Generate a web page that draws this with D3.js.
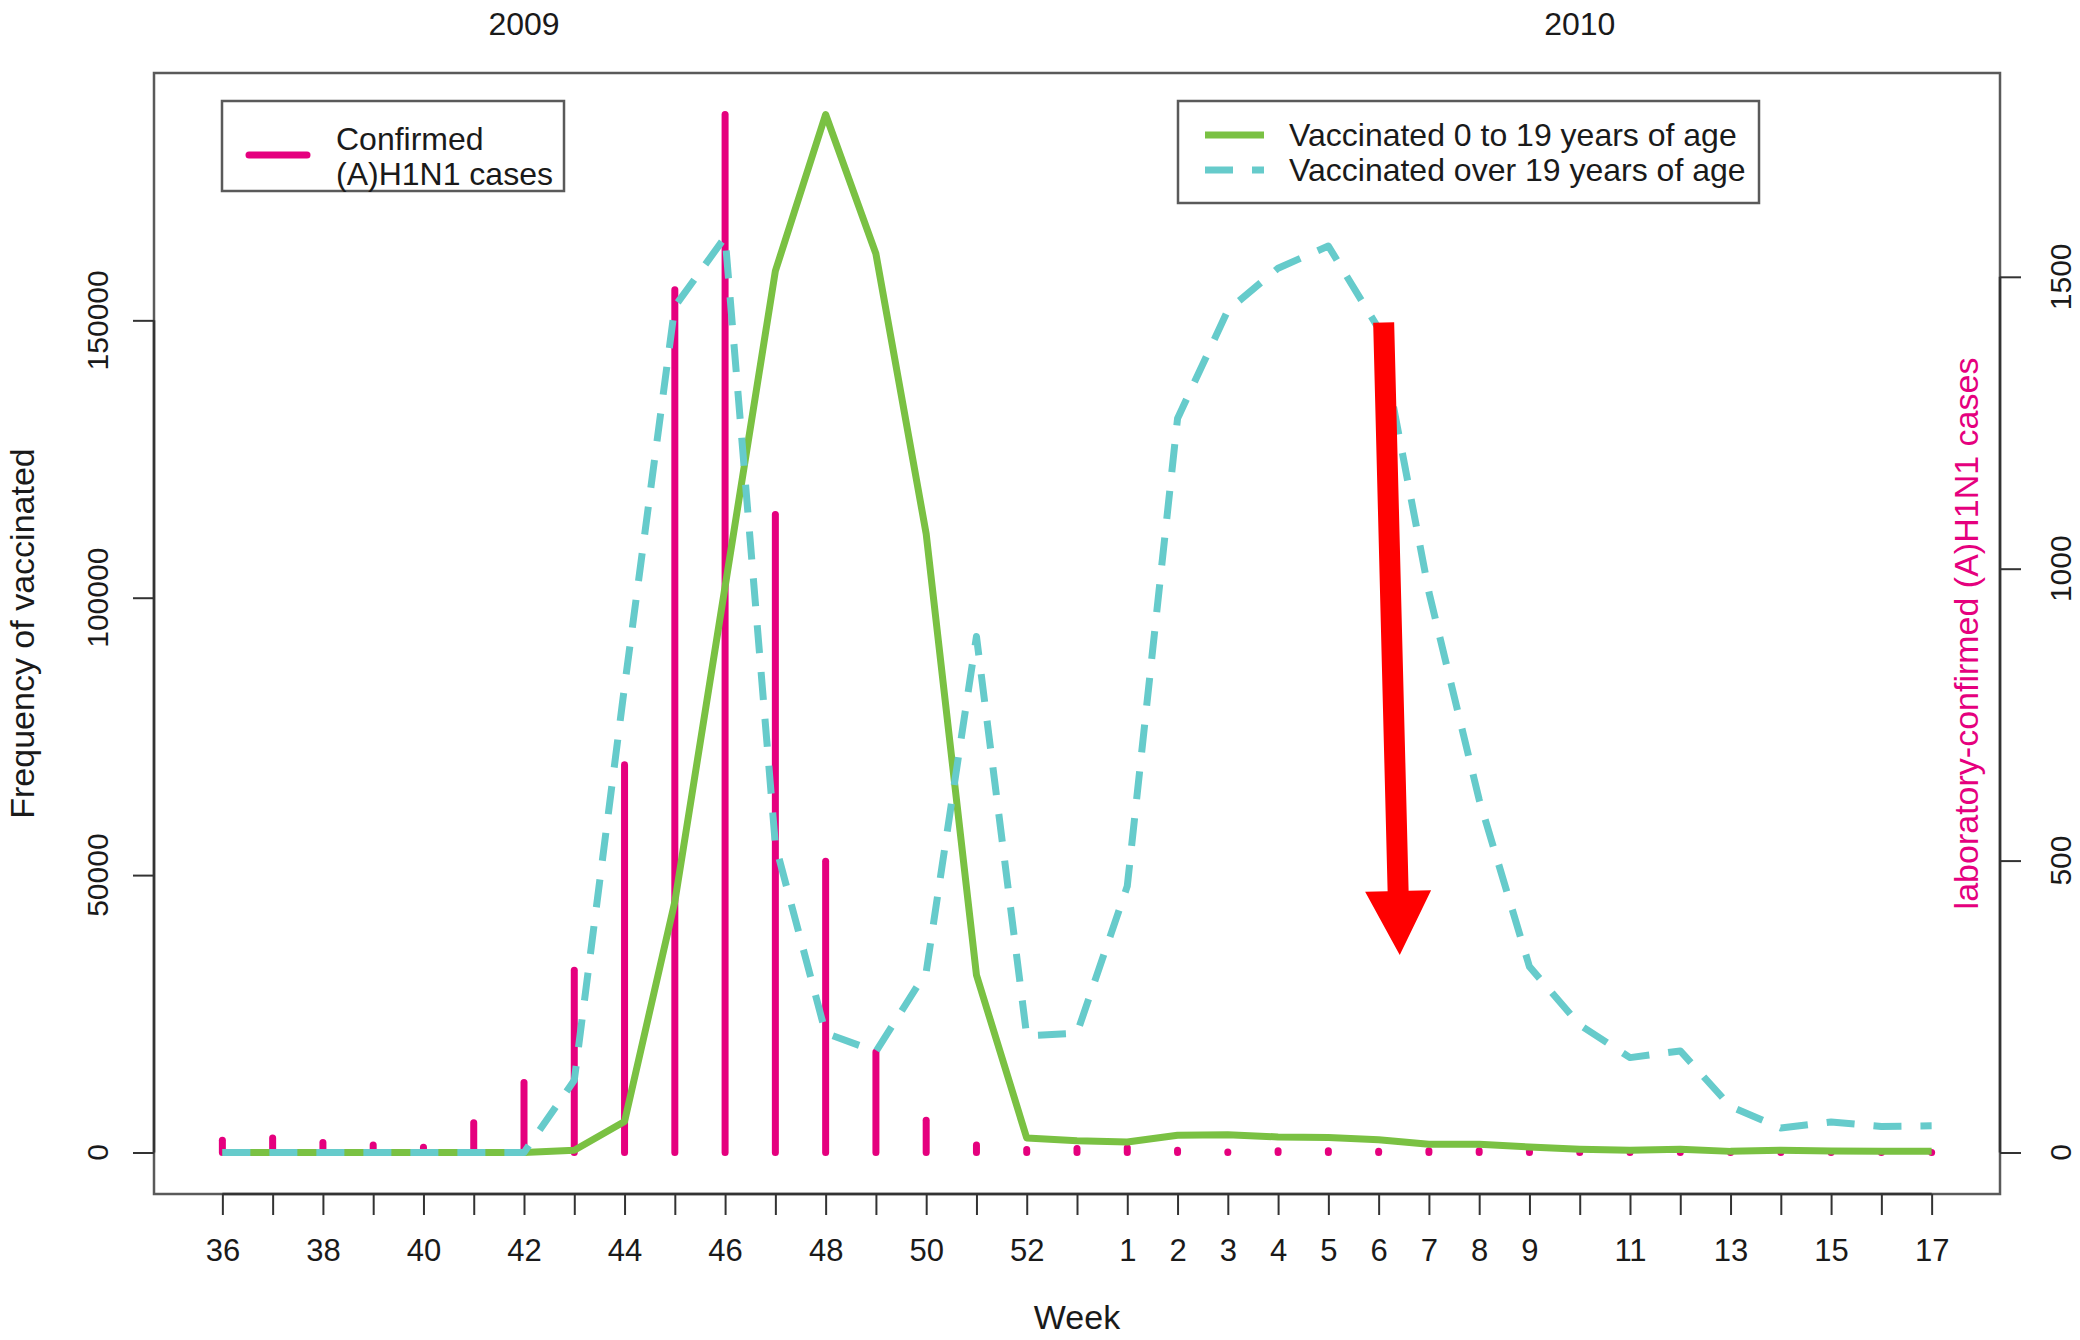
<!DOCTYPE html>
<html>
<head>
<meta charset="utf-8">
<script src="https://cdn.jsdelivr.net/npm/d3@7"></script>
<style>
  body { margin: 0; background: #fff; }
  svg text { font-family: "Liberation Sans", Arial, sans-serif; fill: #1a1a1a; }
</style>
</head>
<body>
<script>
// ISO weeks, 2009 week 36 .. 2010 week 17
const weeks = [36, 37, 38, 39, 40, 41, 42, 43, 44, 45, 46, 47, 48, 49, 50, 51, 52, 53,
               1, 2, 3, 4, 5, 6, 7, 8, 9, 10, 11, 12, 13, 14, 15, 16, 17]
// labels that R kept on the axis (the others were dropped for overlap)
const weekLabels = ["36", "", "38", "", "40", "", "42", "", "44", "", "46", "", "48", "", "50", "", "52", "",
                    "1", "2", "3", "4", "5", "6", "7", "8", "9", "", "11", "", "13", "", "15", "", "17"]

// laboratory-confirmed (A)H1N1 cases (right axis)
const cases = [21, 25, 17, 13, 9, 51, 120, 312, 664, 1478, 1778, 1093, 499, 172, 55, 13, 5, 7,
               8, 4, 1, 3, 3, 2, 3, 3, 2, 1, 1, 1, 0, 1, 0, 0, 0]
// vaccinated 0 to 19 years of age (left axis)
const vacYoung = [0, 0, 0, 0, 0, 0, 0, 400, 5600, 45200, 102000, 158900, 187100, 162000, 111500, 32000, 2600, 2100,
                  1900, 3100, 3200, 2800, 2700, 2300, 1500, 1500, 1000, 600, 400, 600, 200, 400, 250, 200, 200]
// vaccinated over 19 years of age (left axis)
const vacAdult = [0, 0, 0, 0, 0, 0, 0, 13000, 84000, 152500, 165000, 55500, 21500, 18200, 32500, 93000, 21000, 21500,
                  48000, 132300, 151800, 159400, 163400, 148500, 101000, 63600, 33500, 23000, 17100, 18300, 8300, 4400, 5500, 4700, 4800]

const leftTicks = [0, 50000, 100000, 150000]
const rightTicks = [0, 500, 1000, 1500]
// year headers, placed over week 42 (2009) and week 10 (2010)
const years = [{label: "2009", idx: 6}, {label: "2010", idx: 27}]
// red arrow annotation: from (week index, vaccinated) to tip
const arrowFrom = {idx: 23.1, value: 149600}
const arrowTo = {idx: 23.42, value: 35600}

const pink = "#e5007e"
const green = "#7ac143"
const cyan = "#66cbcb"

const w = 2080
const h = 1340
const box = {left: 154, right: 2000, top: 73, bottom: 1194}

const svg = d3.select("body")
  .append("svg")
  .attr("width", w)
  .attr("height", h)

// R style scales: 4% padding on each side
const n = weeks.length
const x = d3.scaleLinear()
  .domain([-0.04 * (n - 1), 1.04 * (n - 1)])
  .range([box.left, box.right])

const vmax = d3.max(vacYoung.concat(vacAdult))
const yLeft = d3.scaleLinear()
  .domain([-0.04 * vmax, 1.04 * vmax])
  .range([box.bottom, box.top])

const cmax = d3.max(cases)
const yRight = d3.scaleLinear()
  .domain([-0.04 * cmax, 1.04 * cmax])
  .range([box.bottom, box.top])

// cases as vertical lines (type = "h")
svg.append("g")
  .selectAll("line")
  .data(cases)
  .enter()
  .append("line")
  .attr("x1", (d, i) => x(i))
  .attr("x2", (d, i) => x(i))
  .attr("y1", yRight(0))
  .attr("y2", d => yRight(d))
  .attr("stroke", pink)
  .attr("stroke-width", 7)
  .attr("stroke-linecap", "round")

const line = d3.line()
  .x((d, i) => x(i))
  .y(d => yLeft(d))

svg.append("path")
  .datum(vacYoung)
  .attr("d", line)
  .attr("fill", "none")
  .attr("stroke", green)
  .attr("stroke-width", 7)
  .attr("stroke-linejoin", "round")

svg.append("path")
  .datum(vacAdult)
  .attr("d", line)
  .attr("fill", "none")
  .attr("stroke", cyan)
  .attr("stroke-width", 7)
  .attr("stroke-dasharray", "28,19")
  .attr("stroke-linejoin", "round")

// plot frame
svg.append("rect")
  .attr("x", box.left)
  .attr("y", box.top)
  .attr("width", box.right - box.left)
  .attr("height", box.bottom - box.top)
  .attr("fill", "none")
  .attr("stroke", "#5a5a5a")
  .attr("stroke-width", 2.5)

// bottom axis
const xAxis = d3.axisBottom(x)
  .tickValues(d3.range(n))
  .tickFormat(i => weekLabels[i])
  .tickSize(21)
  .tickPadding(24)
svg.append("g")
  .attr("transform", "translate(0," + box.bottom + ")")
  .call(xAxis)
  .call(g => g.select(".domain").remove())
  .call(g => g.selectAll("line").attr("stroke", "#333").attr("stroke-width", 2))
  .call(g => g.selectAll("text").attr("font-size", 31).attr("fill", "#1a1a1a"))
svg.append("line")
  .attr("x1", x(0)).attr("x2", x(n - 1))
  .attr("y1", box.bottom).attr("y2", box.bottom)
  .attr("stroke", "#333").attr("stroke-width", 2.5)

// left axis, labels parallel to the axis
const yAxisL = d3.axisLeft(yLeft).tickValues(leftTicks).tickFormat("").tickSize(21)
svg.append("g")
  .attr("transform", "translate(" + box.left + ",0)")
  .call(yAxisL)
  .call(g => g.select(".domain").remove())
  .call(g => g.selectAll("line").attr("stroke", "#333").attr("stroke-width", 2))
svg.append("line")
  .attr("x1", box.left).attr("x2", box.left)
  .attr("y1", yLeft(0)).attr("y2", yLeft(150000))
  .attr("stroke", "#333").attr("stroke-width", 2.5)
svg.append("g")
  .selectAll("text")
  .data(leftTicks)
  .enter()
  .append("text")
  .attr("transform", d => "translate(108," + yLeft(d) + ") rotate(-90)")
  .attr("text-anchor", "middle")
  .attr("font-size", 30)
  .text(d => d)

// right axis
const yAxisR = d3.axisRight(yRight).tickValues(rightTicks).tickFormat("").tickSize(21)
svg.append("g")
  .attr("transform", "translate(" + box.right + ",0)")
  .call(yAxisR)
  .call(g => g.select(".domain").remove())
  .call(g => g.selectAll("line").attr("stroke", "#333").attr("stroke-width", 2))
svg.append("line")
  .attr("x1", box.right).attr("x2", box.right)
  .attr("y1", yRight(0)).attr("y2", yRight(1500))
  .attr("stroke", "#333").attr("stroke-width", 2.5)
svg.append("g")
  .selectAll("text")
  .data(rightTicks)
  .enter()
  .append("text")
  .attr("transform", d => "translate(2071," + yRight(d) + ") rotate(-90)")
  .attr("text-anchor", "middle")
  .attr("font-size", 30)
  .text(d => d)

// titles
svg.append("text")
  .attr("x", (box.left + box.right) / 2)
  .attr("y", 1329)
  .attr("text-anchor", "middle")
  .attr("font-size", 34)
  .text("Week")

svg.append("text")
  .attr("transform", "translate(34," + (box.top + box.bottom) / 2 + ") rotate(-90)")
  .attr("text-anchor", "middle")
  .attr("font-size", 34)
  .text("Frequency of vaccinated")

svg.append("text")
  .attr("transform", "translate(1978," + (box.top + box.bottom) / 2 + ") rotate(-90)")
  .attr("text-anchor", "middle")
  .attr("font-size", 34)
  .style("fill", pink)
  .text("laboratory-confirmed (A)H1N1 cases")

svg.append("g")
  .selectAll("text")
  .data(years)
  .enter()
  .append("text")
  .attr("x", d => x(d.idx))
  .attr("y", 35)
  .attr("text-anchor", "middle")
  .attr("font-size", 32)
  .text(d => d.label)

// legend for cases
const legend1 = svg.append("g").attr("id", "legend-cases")
legend1.append("rect")
  .attr("x", 222).attr("y", 101).attr("width", 342).attr("height", 90)
  .attr("fill", "#fff").attr("stroke", "#5a5a5a").attr("stroke-width", 2.5)
legend1.append("line")
  .attr("x1", 249).attr("x2", 307).attr("y1", 155).attr("y2", 155)
  .attr("stroke", pink).attr("stroke-width", 7).attr("stroke-linecap", "round")
legend1.append("text").attr("x", 336).attr("y", 150).attr("font-size", 32).text("Confirmed")
legend1.append("text").attr("x", 336).attr("y", 185).attr("font-size", 32).text("(A)H1N1 cases")

// legend for vaccinated
const legend2 = svg.append("g").attr("id", "legend-vaccinated")
legend2.append("rect")
  .attr("x", 1178).attr("y", 101).attr("width", 581).attr("height", 102)
  .attr("fill", "#fff").attr("stroke", "#5a5a5a").attr("stroke-width", 2.5)
legend2.append("line")
  .attr("x1", 1205).attr("x2", 1264).attr("y1", 135).attr("y2", 135)
  .attr("stroke", green).attr("stroke-width", 7)
legend2.append("line")
  .attr("x1", 1205).attr("x2", 1264).attr("y1", 170).attr("y2", 170)
  .attr("stroke", cyan).attr("stroke-width", 7).attr("stroke-dasharray", "28,19")
legend2.append("text").attr("x", 1289).attr("y", 146).attr("font-size", 32).text("Vaccinated 0 to 19 years of age")
legend2.append("text").attr("x", 1289).attr("y", 181).attr("font-size", 32).text("Vaccinated over 19 years of age")

// red arrow
const p0 = [x(arrowFrom.idx), yLeft(arrowFrom.value)]
const p1 = [x(arrowTo.idx), yLeft(arrowTo.value)]
const len = Math.hypot(p1[0] - p0[0], p1[1] - p0[1])
const ux = (p1[0] - p0[0]) / len
const uy = (p1[1] - p0[1]) / len
const nx = -uy
const ny = ux
const shaft = 10.5
const head = 33
const headLen = 64
const bx = p1[0] - ux * headLen
const by = p1[1] - uy * headLen
const arrowPts = [
  [p0[0] + nx * shaft, p0[1] + ny * shaft],
  [bx + nx * shaft, by + ny * shaft],
  [bx + nx * head, by + ny * head],
  p1,
  [bx - nx * head, by - ny * head],
  [bx - nx * shaft, by - ny * shaft],
  [p0[0] - nx * shaft, p0[1] - ny * shaft]
]
svg.append("path")
  .attr("d", d3.line()(arrowPts) + "Z")
  .attr("fill", "#ff0000")
</script>
</body>
</html>
